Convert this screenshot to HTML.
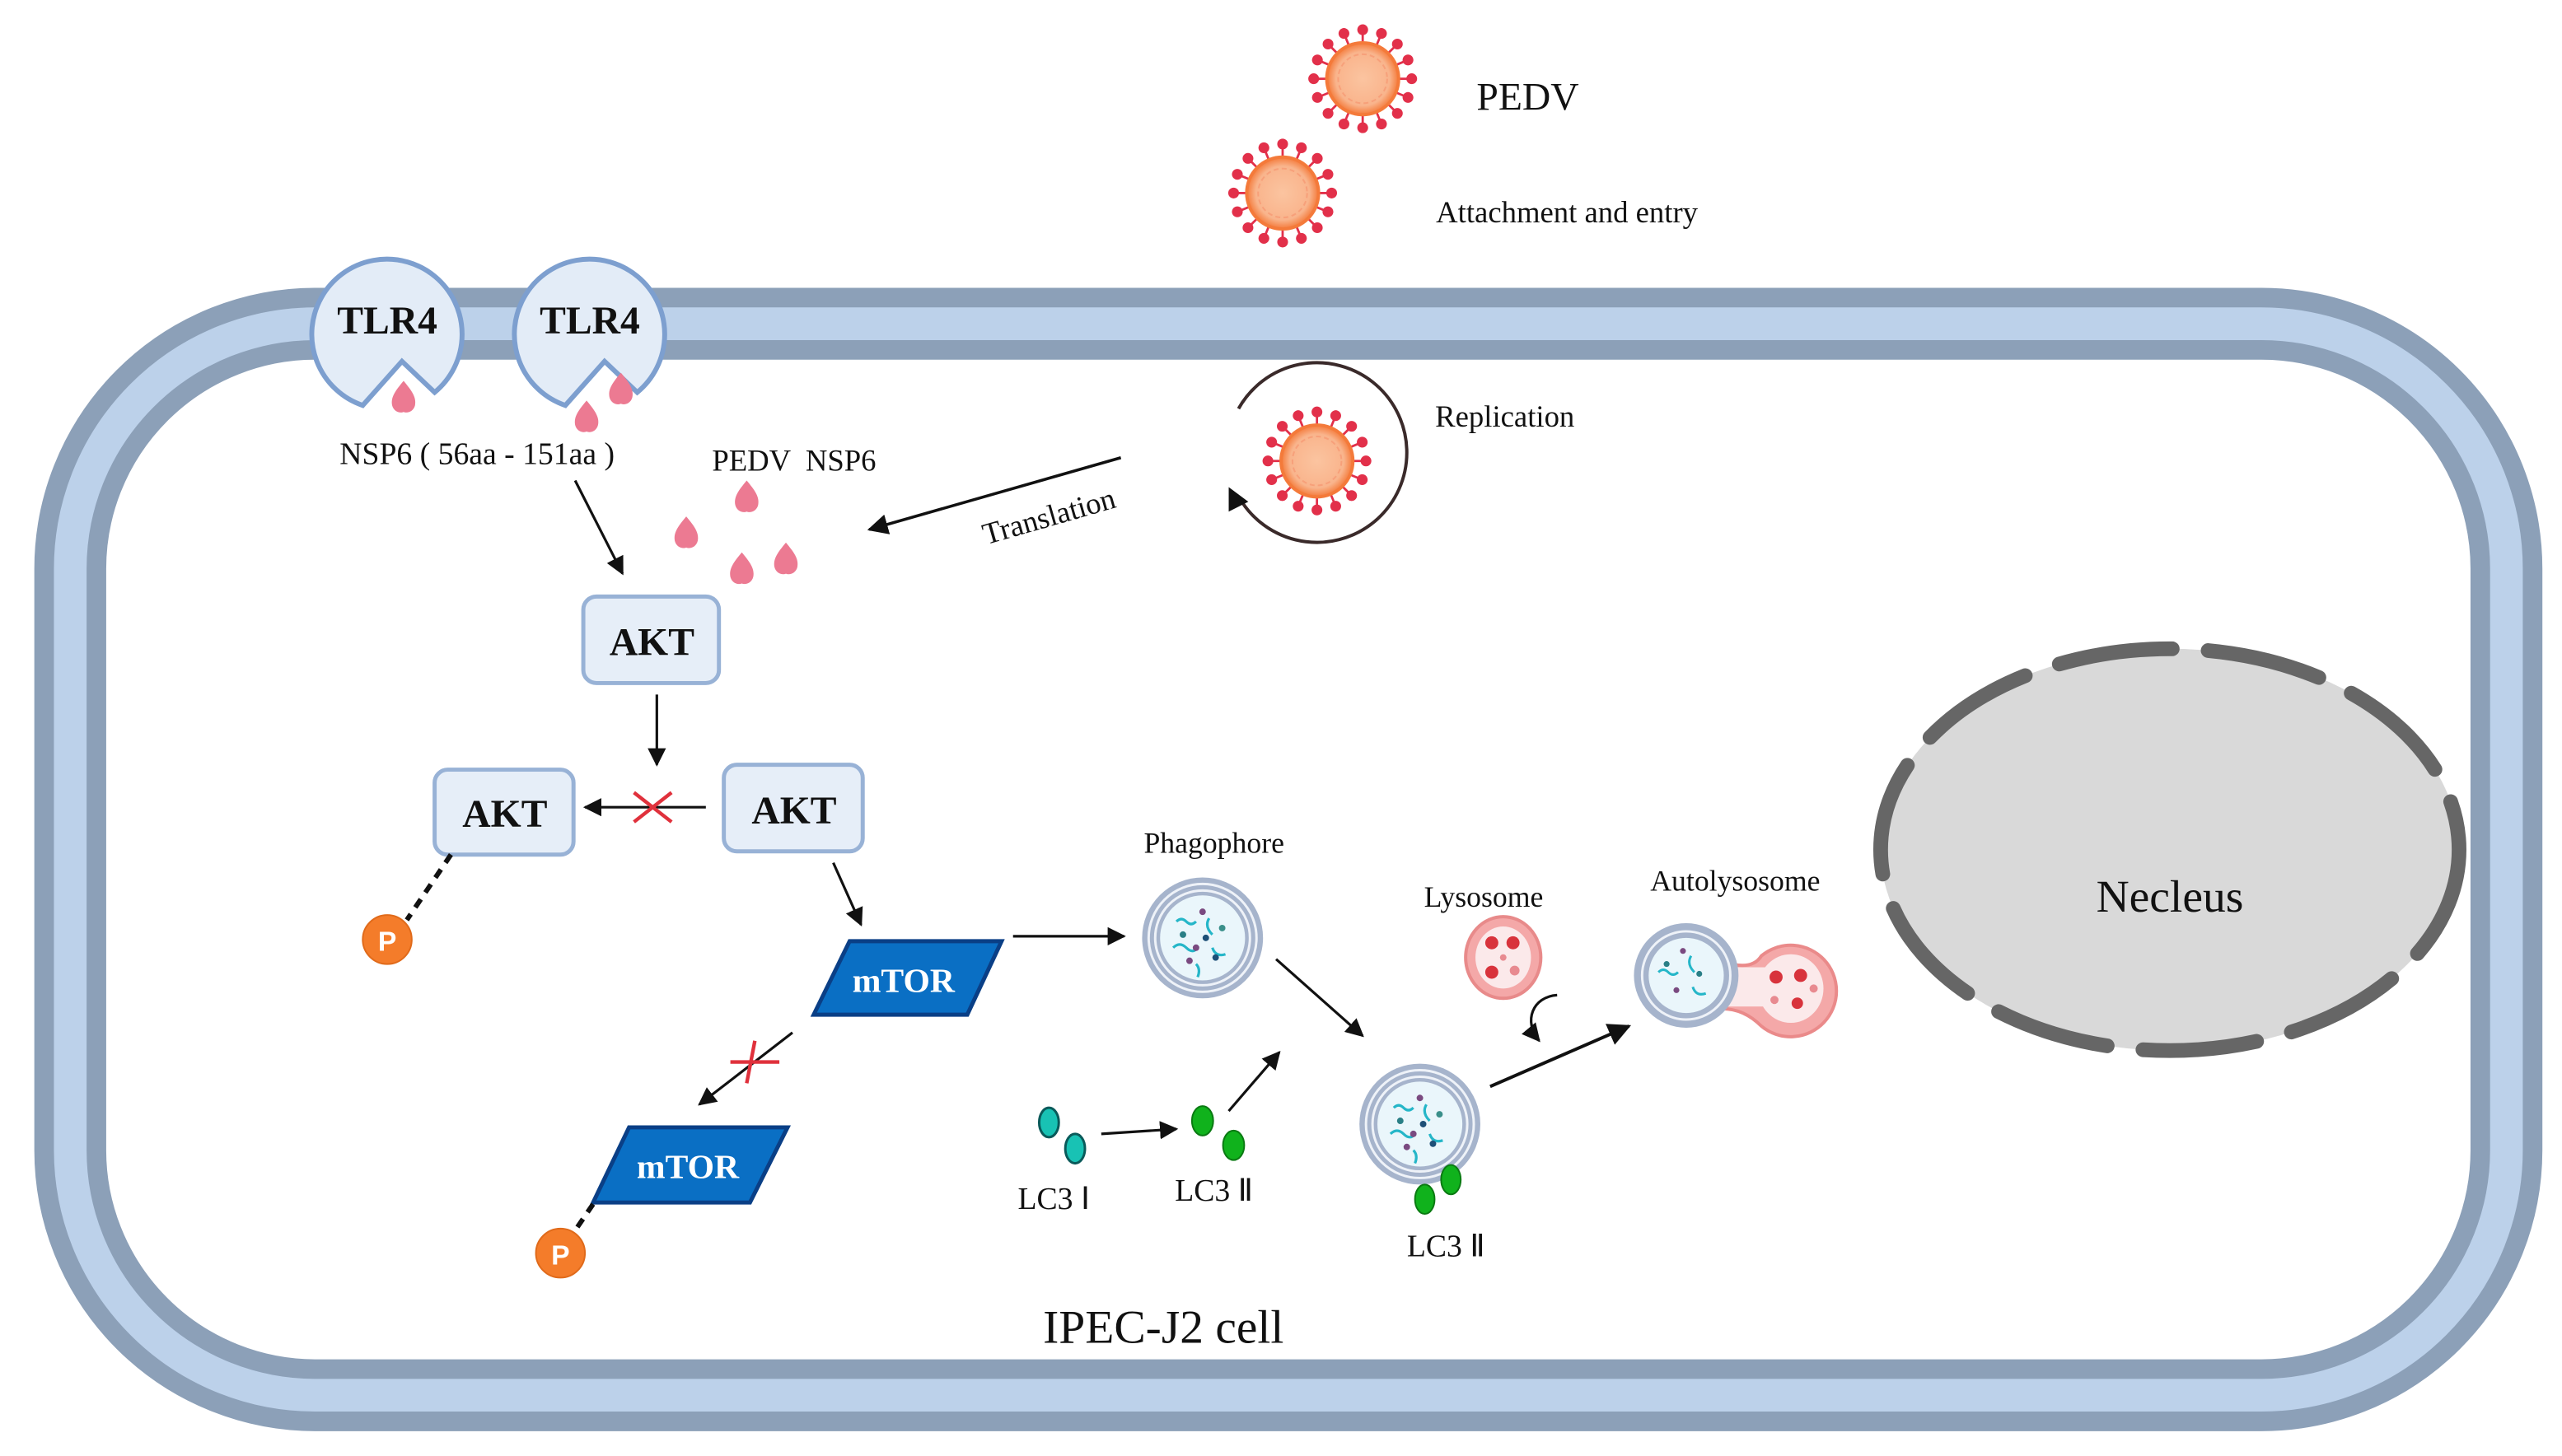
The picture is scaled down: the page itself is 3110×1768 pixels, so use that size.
<!DOCTYPE html>
<html><head><meta charset="utf-8"><style>
html,body{margin:0;padding:0;background:#fff;}
svg{display:block;}
text{font-family:"Liberation Serif",serif;fill:#111;}
</style></head><body>
<svg width="3110" height="1768" viewBox="0 0 1568 891" xmlns="http://www.w3.org/2000/svg">
<defs>
<marker id="ah" viewBox="0 0 10 10" refX="9" refY="5" markerWidth="7" markerHeight="7" orient="auto-start-reverse"><path d="M0,0 L10,5 L0,10 z" fill="#111"/></marker>
<radialGradient id="vg"><stop offset="0" stop-color="#fbc4a0"/><stop offset="0.75" stop-color="#f9b48c"/><stop offset="1" stop-color="#f47a3a"/></radialGradient>
<g id="virus">
<g stroke="#e2304a" stroke-width="1.4" fill="#e2304a">
<g id="sp"><line x1="0" y1="-20" x2="0" y2="-29"/><circle cx="0" cy="-30" r="2.6"/></g>
<use href="#sp" transform="rotate(22.5)"/><use href="#sp" transform="rotate(45)"/><use href="#sp" transform="rotate(67.5)"/>
<use href="#sp" transform="rotate(90)"/><use href="#sp" transform="rotate(112.5)"/><use href="#sp" transform="rotate(135)"/>
<use href="#sp" transform="rotate(157.5)"/><use href="#sp" transform="rotate(180)"/><use href="#sp" transform="rotate(202.5)"/>
<use href="#sp" transform="rotate(225)"/><use href="#sp" transform="rotate(247.5)"/><use href="#sp" transform="rotate(270)"/>
<use href="#sp" transform="rotate(292.5)"/><use href="#sp" transform="rotate(315)"/><use href="#sp" transform="rotate(337.5)"/>
</g>
<circle r="22" fill="url(#vg)" stroke="#f47a3a" stroke-width="2"/>
<circle r="15" fill="none" stroke="#f7a07a" stroke-width="1" stroke-dasharray="3 2"/>
</g>
<g id="prot" fill="#ec7a92"><path d="M0,-10 C5,-4 8,0 7,5 C6,9 2,10 0,9 C-2,10 -6,9 -7,5 C-8,0 -5,-4 0,-10z"/></g>
<g id="vesB">
<circle r="37" fill="#a6b4cc"/><circle r="33" fill="none" stroke="#eef2f8" stroke-width="1.5"/><circle r="29" fill="none" stroke="#eef2f8" stroke-width="1.5"/>
<circle r="26" fill="#eaf6fb"/>
<path d="M-16,-10 q3,-3 6,0 t6,0 M4,-12 q-3,5 2,10 M-18,6 q4,-4 8,0 t7,0 M6,6 q2,6 8,4 M-4,16 q3,3 1,8" stroke="#25b6c8" stroke-width="1.6" fill="none"/>
<circle cx="-12" cy="-2" r="2" fill="#2a7f86"/><circle cx="2" cy="0" r="2" fill="#1e4f77"/><circle cx="12" cy="-6" r="2" fill="#3a8f8a"/>
<circle cx="-4" cy="6" r="2" fill="#7a4a80"/><circle cx="8" cy="12" r="2" fill="#1e4f77"/><circle cx="-8" cy="14" r="2" fill="#7a4a80"/><circle cx="0" cy="-16" r="2" fill="#7a4a80"/>
</g>
</defs>

<!-- membrane -->
<rect x="43" y="198" width="1491" height="656" rx="150" ry="150" fill="none" stroke="#8ca0b8" stroke-width="44"/>
<rect x="43" y="198" width="1491" height="656" rx="150" ry="150" fill="none" stroke="#bcd1ea" stroke-width="20"/>

<!-- viruses -->
<use href="#virus" transform="translate(834,48)"/>
<use href="#virus" transform="translate(785,118)"/>
<use href="#virus" transform="translate(806,282)"/>
<path d="M758,250 A55,55 0 1 1 760,307" fill="none" stroke="#3a2a2a" stroke-width="2"/>
<path d="M752,298 L764,307 L752,313z" fill="#111"/>
<text x="935" y="67" font-size="24" text-anchor="middle">PEDV</text>
<text x="959" y="136" font-size="18.5" text-anchor="middle">Attachment and entry</text>
<text x="921" y="261" font-size="18.5" text-anchor="middle">Replication</text>
<line x1="686" y1="280" x2="532" y2="324" stroke="#111" stroke-width="1.8" marker-end="url(#ah)"/>
<text x="642" y="322" font-size="18.5" text-anchor="middle" transform="rotate(-16 642 316)">Translation</text>

<!-- TLR4 -->
<g fill="#e3ecf7" stroke="#7d9fcf" stroke-width="3">
<path d="M222,248 A46,46 0 1 1 266,240 L246,221 Z"/>
<path d="M346,248 A46,46 0 1 1 390,240 L370,221 Z"/>
</g>
<text x="237" y="204" font-size="24" text-anchor="middle" font-weight="bold">TLR4</text>
<text x="361" y="204" font-size="24" text-anchor="middle" font-weight="bold">TLR4</text>
<use href="#prot" transform="translate(247,243)"/>
<use href="#prot" transform="translate(380,238)"/>
<use href="#prot" transform="translate(359,255)"/>
<text x="292" y="284" font-size="19" text-anchor="middle">NSP6 ( 56aa - 151aa )</text>
<text x="486" y="288" font-size="18.5" text-anchor="middle" xml:space="preserve">PEDV  NSP6</text>
<use href="#prot" transform="translate(457,304)"/>
<use href="#prot" transform="translate(420,326)"/>
<use href="#prot" transform="translate(454,348)"/>
<use href="#prot" transform="translate(481,342)"/>
<line x1="352" y1="294" x2="381" y2="351" stroke="#111" stroke-width="1.6" marker-end="url(#ah)"/>

<!-- AKT -->
<g fill="#e6eef8" stroke="#98b2d6" stroke-width="2.5">
<rect x="357" y="365" width="83" height="53" rx="8"/>
<rect x="266" y="471" width="85" height="52" rx="8"/>
<rect x="443" y="468" width="85" height="53" rx="8"/>
</g>
<g font-size="24" text-anchor="middle" font-weight="bold">
<text x="399" y="401">AKT</text><text x="309" y="506">AKT</text><text x="486" y="504">AKT</text>
</g>
<line x1="402" y1="425" x2="402" y2="468" stroke="#111" stroke-width="1.6" marker-end="url(#ah)"/>
<line x1="432" y1="494" x2="358" y2="494" stroke="#111" stroke-width="1.6" marker-end="url(#ah)"/>
<path d="M388,485 L411,503 M411,485 L388,503" stroke="#e0313c" stroke-width="2.2"/>
<line x1="276" y1="523" x2="249" y2="563" stroke="#111" stroke-width="3" stroke-dasharray="6 5"/>
<circle cx="237" cy="575" r="15" fill="#f47c2a" stroke="#e06a1a"/>
<text x="237" y="582" font-size="17" text-anchor="middle" font-weight="bold" style="font-family:'Liberation Sans',sans-serif;fill:#fff">P</text>

<!-- mTOR -->
<line x1="510" y1="528" x2="527" y2="566" stroke="#111" stroke-width="1.6" marker-end="url(#ah)"/>
<path d="M520,576 L613,576 L592,621 L498,621z" fill="#0a6fc4" stroke="#0a3f86" stroke-width="2.5"/>
<text x="553" y="607" font-size="21" text-anchor="middle" font-weight="bold" style="fill:#fff">mTOR</text>
<line x1="485" y1="632" x2="428" y2="676" stroke="#111" stroke-width="1.6" marker-end="url(#ah)"/>
<path d="M447,650 L477,650 M462,637 L457,663" stroke="#e0313c" stroke-width="2.2"/>
<path d="M385,690 L482,690 L459,736 L363,736z" fill="#0a6fc4" stroke="#0a3f86" stroke-width="2.5"/>
<text x="421" y="721" font-size="21" text-anchor="middle" font-weight="bold" style="fill:#fff">mTOR</text>
<line x1="363" y1="737" x2="350" y2="756" stroke="#111" stroke-width="3" stroke-dasharray="6 5"/>
<circle cx="343" cy="767" r="15" fill="#f47c2a" stroke="#e06a1a"/>
<text x="343" y="774" font-size="17" text-anchor="middle" font-weight="bold" style="font-family:'Liberation Sans',sans-serif;fill:#fff">P</text>

<!-- autophagy -->
<line x1="620" y1="573" x2="688" y2="573" stroke="#111" stroke-width="1.6" marker-end="url(#ah)"/>
<text x="743" y="522" font-size="18" text-anchor="middle">Phagophore</text>
<use href="#vesB" transform="translate(736,574)"/>
<line x1="781" y1="587" x2="834" y2="634" stroke="#111" stroke-width="1.6" marker-end="url(#ah)"/>
<use href="#vesB" transform="translate(869,688)"/>
<g fill="#10b21c" stroke="#0a7a12"><ellipse cx="872" cy="734" rx="6" ry="9"/><ellipse cx="888" cy="722" rx="6" ry="9"/>
<ellipse cx="736" cy="686" rx="6.5" ry="9"/><ellipse cx="755" cy="701" rx="6.5" ry="9"/></g>
<g fill="#18c2b4" stroke="#0a5a5a" stroke-width="1.5"><ellipse cx="642" cy="687" rx="6" ry="9"/><ellipse cx="658" cy="703" rx="6" ry="9"/></g>
<line x1="674" y1="694" x2="720" y2="691" stroke="#111" stroke-width="1.6" marker-end="url(#ah)"/>
<line x1="752" y1="680" x2="783" y2="644" stroke="#111" stroke-width="1.6" marker-end="url(#ah)"/>
<text x="645" y="740" font-size="19" text-anchor="middle">LC3 Ⅰ</text>
<text x="743" y="735" font-size="19" text-anchor="middle">LC3 Ⅱ</text>
<text x="885" y="769" font-size="19" text-anchor="middle">LC3 Ⅱ</text>

<text x="908" y="555" font-size="18" text-anchor="middle">Lysosome</text>
<ellipse cx="920" cy="586" rx="23" ry="25" fill="#f4a8a8" stroke="#e88a8a" stroke-width="2"/>
<ellipse cx="920" cy="586" rx="17" ry="19" fill="#fbe9ea"/>
<g fill="#d8333c"><circle cx="913" cy="577" r="4"/><circle cx="926" cy="577" r="4"/><circle cx="913" cy="595" r="4"/><circle cx="927" cy="594" r="3" fill="#e88a90"/><circle cx="920" cy="586" r="2" fill="#e88a90"/></g>
<path d="M953,609 C938,610 932,625 942,637" fill="none" stroke="#111" stroke-width="1.6" marker-end="url(#ah)"/>
<line x1="912" y1="665" x2="997" y2="628" stroke="#111" stroke-width="2" marker-end="url(#ah)"/>

<text x="1062" y="545" font-size="18" text-anchor="middle">Autolysosome</text>
<path d="M1040,582 Q1070,598 1078,585 A28,28 0 1 1 1078,628 Q1062,612 1040,620z" fill="#f4a8a8" stroke="#ea8a8a" stroke-width="2"/>
<ellipse cx="1096" cy="605" rx="20" ry="21" fill="#fbe9ea"/>
<rect x="1050" y="592" width="40" height="24" fill="#fbe9ea"/>
<g fill="#d8333c"><circle cx="1087" cy="598" r="4"/><circle cx="1102" cy="597" r="4"/><circle cx="1100" cy="614" r="3.5"/><circle cx="1110" cy="605" r="2.5" fill="#e88a90"/><circle cx="1086" cy="612" r="2.5" fill="#e88a90"/></g>
<circle cx="1032" cy="597" r="32" fill="#a6b4cc"/><circle cx="1032" cy="597" r="27" fill="none" stroke="#eef2f8" stroke-width="1.5"/>
<circle cx="1032" cy="597" r="23" fill="#eaf6fb"/>
<path d="M1015,595 q3,-3 6,0 t6,0 M1035,585 q-3,5 2,10 M1036,604 q2,6 8,4" stroke="#25b6c8" stroke-width="1.5" fill="none"/>
<g fill="#2a7f86"><circle cx="1020" cy="590" r="1.8"/><circle cx="1040" cy="596" r="1.8"/><circle cx="1026" cy="606" r="1.8" fill="#7a4a80"/><circle cx="1030" cy="582" r="1.8" fill="#7a4a80"/></g>

<!-- nucleus -->
<ellipse cx="1328" cy="520" rx="177" ry="123" fill="#d9d9d9"/>
<ellipse cx="1328" cy="520" rx="177" ry="123" fill="none" stroke="#666" stroke-width="9" stroke-dasharray="70 22" stroke-linecap="round"/>
<text x="1328" y="558" font-size="28" text-anchor="middle">Necleus</text>

<text x="712" y="822" font-size="29" text-anchor="middle">IPEC-J2 cell</text>
</svg>
</body></html>
